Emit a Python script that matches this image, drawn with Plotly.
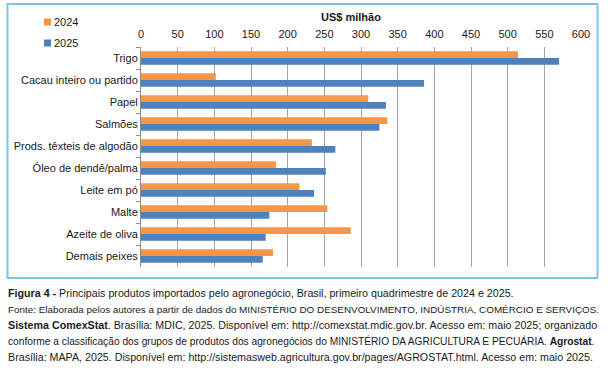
import plotly.graph_objects as go

categories = ["Trigo", "Cacau inteiro ou partido", "Papel", "Salmões",
              "Prods. têxteis de algodão", "Óleo de dendê/palma", "Leite em pó",
              "Malte", "Azeite de oliva", "Demais peixes"]
values_2024 = [514, 102, 310, 336, 233, 184, 216, 254, 286, 180]
values_2025 = [570, 386, 334, 325, 265, 252, 236, 175, 170, 166]
x_ticks = list(range(0, 601, 50))
series_names = ["2024", "2025"]

FONT = "Liberation Sans"
CAP_FONT = "Liberation Sans"
ORANGE = "#F79646"
BLUE = "#4F81BD"
TXT = "#1a1a1a"

fig = go.Figure()
fig.add_trace(go.Bar(y=categories, x=values_2024, orientation="h", name=series_names[0],
                     marker=dict(color=ORANGE, line=dict(width=0)), showlegend=False))
fig.add_trace(go.Bar(y=categories, x=values_2025, orientation="h", name=series_names[1],
                     marker=dict(color=BLUE, line=dict(width=0)), showlegend=False))

L, R, T, B = 141, 35, 47, 109
W, H = 616, 376
pw = W - L - R
ph = H - T - B

def px(x):
    return (x - L) / pw

def py(y):
    return (H - B - y) / ph

fig.update_layout(
    width=W, height=H,
    margin=dict(l=L, r=R, t=T, b=B, autoexpand=False),
    paper_bgcolor="white", plot_bgcolor="white",
    barmode="group", bargap=0.38, bargroupgap=0,
    font=dict(family=FONT, size=11, color=TXT),
    showlegend=False,
    xaxis=dict(side="top", range=[0, 600], tickvals=x_ticks,
               showgrid=True, gridcolor="#a6a6a6", gridwidth=1,
               zeroline=False, showline=False, ticks="",
               ticklabelstandoff=6, automargin=False,
               tickfont=dict(family=FONT, size=11, color=TXT),
               fixedrange=True),
    yaxis=dict(autorange="reversed", type="category",
               showline=True, linecolor="#8c8c8c", linewidth=1,
               ticks="outside", ticklen=4, tickcolor="#8c8c8c",
               tickson="boundaries", showgrid=False, automargin=False,
               tickfont=dict(family=FONT, size=11, color=TXT),
               fixedrange=True),
)

# chart frame
fig.add_shape(type="rect", xref="paper", yref="paper",
              x0=px(7.5), x1=px(597.5), y0=py(278), y1=py(4),
              line=dict(color="#7cc4e4", width=2), fillcolor="rgba(0,0,0,0)",
              layer="below")

# custom legend
for i, (name, col) in enumerate(zip(series_names, [ORANGE, BLUE])):
    cy = 22 + 21 * i
    fig.add_shape(type="rect", xref="paper", yref="paper",
                  x0=px(44), x1=px(51), y0=py(cy + 3.5), y1=py(cy - 3.5),
                  line=dict(width=0), fillcolor=col)
    fig.add_annotation(text=name, xref="paper", yref="paper",
                       x=px(52), y=py(cy), xanchor="left", yanchor="middle",
                       showarrow=False, font=dict(family=FONT, size=11, color=TXT))

fig.add_annotation(text="<b>US$ milhão</b>", xref="paper", yref="paper",
                   x=px(351), y=py(17), xanchor="center", yanchor="middle",
                   showarrow=False, font=dict(family=FONT, size=11, color=TXT))

caption = [
    "<b>Figura 4 -</b> Principais produtos importados pelo agronegócio, Brasil, primeiro quadrimestre de 2024 e 2025.",
    "Fonte: Elaborada pelos autores a partir de dados do MINISTÉRIO DO DESENVOLVIMENTO, INDÚSTRIA, COMÉRCIO E SERVIÇOS.",
    "<b>Sistema ComexStat</b>. Brasília: MDIC, 2025. Disponível em: http://comexstat.mdic.gov.br. Acesso em: maio 2025; organizado",
    "conforme a classificação dos grupos de produtos dos agronegócios do MINISTÉRIO DA AGRICULTURA E PECUÁRIA. <b>Agrostat</b>.",
    "Brasília: MAPA, 2025. Disponível em: http://sistemasweb.agricultura.gov.br/pages/AGROSTAT.html. Acesso em: maio 2025.",
]
cap_sizes = [10.7, 9.9, 10.7, 10.2, 10.7]
for i, line in enumerate(caption):
    fig.add_annotation(text=line, xref="paper", yref="paper",
                       x=px(6), y=py(293 + 16 * i), xanchor="left", yanchor="middle",
                       showarrow=False, font=dict(family=CAP_FONT, size=cap_sizes[i], color=TXT))

fig.write_html("out.html", post_script="document.body.style.margin='0';",
               config={"displayModeBar": False, "staticPlot": True})
